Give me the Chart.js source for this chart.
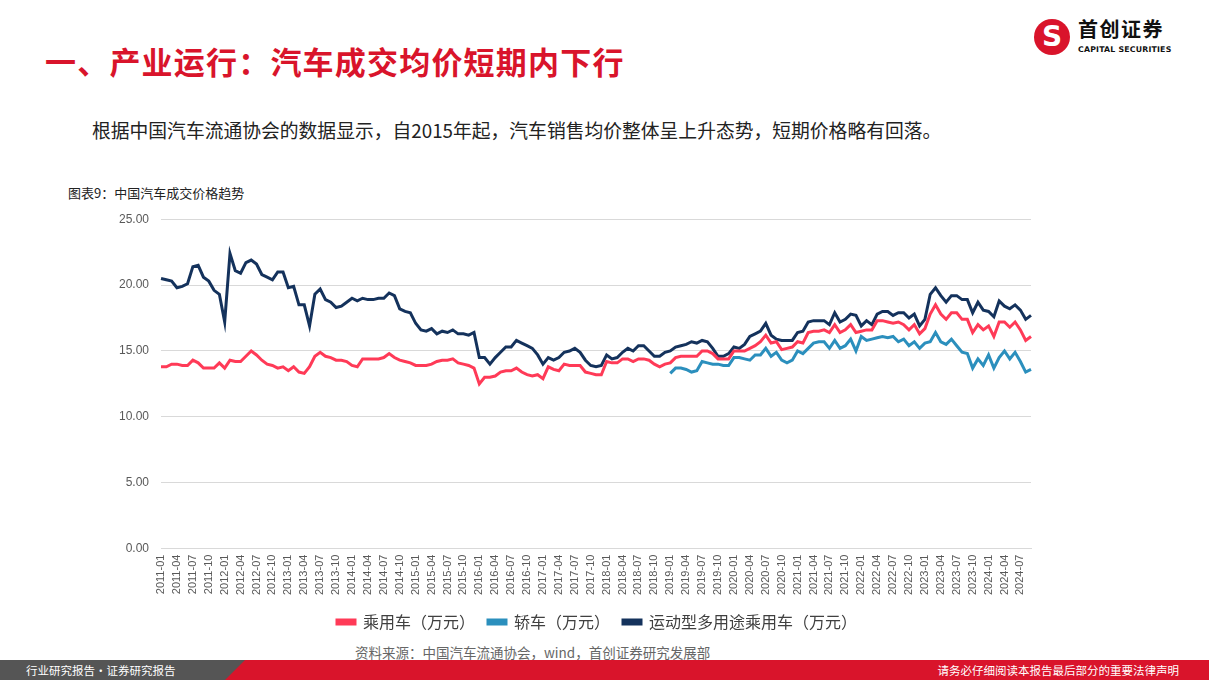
<!DOCTYPE html>
<html>
<head>
<meta charset="utf-8">
<script src="https://cdn.jsdelivr.net/npm/chart.js@4/dist/chart.umd.min.js"></script>
<style>
  body { margin: 0; width: 1209px; height: 680px; background: #fff; position: relative; overflow: hidden;
         font-family: "Noto Sans CJK SC", "Noto Sans", sans-serif; }
  .title { position: absolute; left: 45px; top: 38px; font-size: 31px; font-weight: bold; color: #d9142b; letter-spacing: 1.2px; }
  .logo-mark { position: absolute; left: 1034px; top: 19px; width: 36px; height: 36px; border-radius: 50%; background: #d9142b;
               color: #fff; font: bold 28px "DejaVu Sans", sans-serif; text-align: center; line-height: 36px; }
  .logo-cn { position: absolute; left: 1078px; top: 16px; font-size: 20px; font-weight: bold; color: #111; letter-spacing: 1.5px; line-height: 26px; }
  .logo-en { position: absolute; left: 1078px; top: 45px; font: bold 7.8px "DejaVu Sans", sans-serif; color: #111; line-height: 9px; letter-spacing: 0.2px; }
  .lead { position: absolute; left: 92px; top: 116px; font-size: 18.8px; color: #222; }
  .caption { position: absolute; left: 68px; top: 183px; font-size: 13px; color: #222; }
  .source { position: absolute; left: 355px; top: 642px; font-size: 13.5px; color: #666; }
  .footer { position: absolute; left: 0; top: 660px; width: 1209px; height: 20px; background: #d9142b; }
  .footer .grey { position: absolute; left: 0; top: 0; width: 245px; height: 20px; background: #555;
                  clip-path: polygon(0 0, 245px 0, 225px 20px, 0 20px); }
  .footer .l { position: absolute; left: 26px; top: 2px; font-size: 11.5px; color: #fff; }
  .footer .r { position: absolute; right: 30px; top: 2px; font-size: 11.5px; color: #fff; }
  #wrap { position: absolute; left: 95px; top: 200px; width: 960px; height: 440px; }
</style>
</head>
<body>
<div class="title">一、产业运行：汽车成交均价短期内下行</div>
<div class="logo-mark">S</div>
<div class="logo-cn">首创证券</div>
<div class="logo-en">CAPITAL SECURITIES</div>
<div class="lead">根据中国汽车流通协会的数据显示，自2015年起，汽车销售均价整体呈上升态势，短期价格略有回落。</div>
<div class="caption">图表9：中国汽车成交价格趋势</div>
<div id="wrap"><canvas id="myChart"></canvas></div>
<div class="source">资料来源：中国汽车流通协会，wind，首创证券研究发展部</div>
<div class="footer"><div class="grey"></div><div class="l">行业研究报告·证券研究报告</div><div class="r">请务必仔细阅读本报告最后部分的重要法律声明</div></div>
<script>
// months 2011-01 .. 2024-09
var months = [];
for (var y = 2011; y <= 2024; y++) {
  for (var m = 1; m <= 12; m++) {
    if (y === 2024 && m > 9) break;
    months.push(y + '-' + (m < 10 ? '0' + m : m));
  }
}

// 乘用车（万元）
var passenger = [
  13.8, 13.8, 14.0, 14.0, 13.9, 13.9, 14.3, 14.1, 13.7, 13.7, 13.7, 14.1,
  13.7, 14.3, 14.2, 14.2, 14.6, 15.0, 14.7, 14.3, 14.0, 13.9, 13.7, 13.8,
  13.5, 13.8, 13.4, 13.3, 13.8, 14.6, 14.9, 14.6, 14.5, 14.3, 14.3, 14.2,
  13.9, 13.8, 14.4, 14.4, 14.4, 14.4, 14.5, 14.8, 14.5, 14.3, 14.2, 14.1,
  13.9, 13.9, 13.9, 14.0, 14.2, 14.3, 14.3, 14.4, 14.1, 14.0, 13.9, 13.7,
  12.5, 13.0, 13.0, 13.1, 13.4, 13.5, 13.5, 13.7, 13.4, 13.2, 13.1, 13.2,
  12.9, 13.8, 13.6, 13.5, 14.0, 13.9, 13.9, 13.9, 13.4, 13.3, 13.2, 13.2,
  14.2, 14.1, 14.1, 14.4, 14.4, 14.2, 14.4, 14.4, 14.3, 14.0, 13.8, 14.0,
  14.1, 14.5, 14.6, 14.6, 14.6, 14.6, 15.0, 15.0, 14.8, 14.4, 14.4, 14.4,
  15.0, 15.0, 15.0, 15.2, 15.4, 15.7, 16.2, 15.6, 15.7, 15.1, 15.2, 15.3,
  15.7, 15.6, 16.4, 16.5, 16.5, 16.6, 16.4, 17.0, 16.4, 16.6, 17.0, 16.4,
  16.5, 16.6, 16.6, 17.3, 17.3, 17.2, 17.1, 17.2, 17.0, 16.6, 17.0, 16.3,
  16.7, 17.8, 18.5, 17.8, 17.4, 17.9, 17.9, 17.4, 17.4, 16.4, 17.0, 16.6,
  16.9, 16.1, 17.2, 17.2, 16.8, 17.2, 16.6, 15.8, 16.1
];

// 轿车（万元），from 2019-01
var sedanStart = '2019-01';
var sedan = [
  13.3, 13.7, 13.7, 13.6, 13.4, 13.5, 14.2, 14.1, 14.0, 14.0, 13.9, 13.9,
  14.5, 14.5, 14.4, 14.3, 14.7, 14.7, 15.2, 14.6, 14.9, 14.3, 14.1, 14.3,
  15.0, 14.8, 15.2, 15.6, 15.7, 15.7, 15.2, 15.8, 15.2, 15.4, 15.9, 15.0,
  16.1, 15.8, 15.9, 16.0, 16.1, 16.0, 16.1, 15.7, 15.9, 15.4, 15.7, 15.2,
  15.6, 15.7, 16.4, 15.7, 15.5, 15.9, 15.4, 14.9, 14.8, 13.7, 14.4, 13.9,
  14.7, 13.7, 14.5, 15.0, 14.4, 14.9, 14.2, 13.4, 13.6
];

// 运动型多用途乘用车（万元）
var suv = [
  20.5, 20.4, 20.3, 19.8, 19.9, 20.1, 21.4, 21.5, 20.6, 20.3, 19.6, 19.3,
  17.2, 22.4, 21.1, 20.9, 21.7, 21.9, 21.6, 20.8, 20.6, 20.4, 21.0, 21.0,
  19.8, 19.9, 18.5, 18.5, 16.9, 19.3, 19.7, 18.9, 18.7, 18.3, 18.4, 18.7,
  19.0, 18.8, 19.0, 18.9, 18.9, 19.0, 19.0, 19.4, 19.2, 18.2, 18.0, 17.9,
  17.1, 16.6, 16.5, 16.7, 16.3, 16.5, 16.4, 16.6, 16.3, 16.3, 16.2, 16.4,
  14.5, 14.5, 14.0, 14.5, 14.9, 15.3, 15.3, 15.8, 15.6, 15.4, 15.2, 14.7,
  14.0, 14.5, 14.3, 14.5, 14.9, 15.0, 15.2, 14.9, 14.3, 13.9, 13.8, 13.9,
  14.7, 14.4, 14.5, 14.9, 15.2, 15.0, 15.4, 15.4, 15.0, 14.6, 14.6, 14.9,
  15.0, 15.3, 15.4, 15.5, 15.7, 15.6, 15.8, 15.7, 15.2, 14.6, 14.6, 14.8,
  15.3, 15.2, 15.5, 16.1, 16.3, 16.5, 17.1, 16.2, 15.9, 15.8, 15.8, 15.8,
  16.4, 16.5, 17.2, 17.3, 17.3, 17.3, 17.0, 17.9, 17.2, 17.4, 17.8, 17.7,
  16.9, 17.3, 17.0, 17.8, 18.0, 18.0, 17.7, 17.9, 17.9, 17.5, 17.8, 16.9,
  17.4, 19.3, 19.8, 19.2, 18.7, 19.2, 19.2, 18.9, 18.9, 17.9, 18.7, 18.1,
  18.0, 17.6, 18.8, 18.4, 18.2, 18.5, 18.1, 17.4, 17.7
];

var yTicks = [0, 5, 10, 15, 20, 25];

var sedanFull = months.map(function (mo, i) {
  var k = i - months.indexOf(sedanStart);
  return k >= 0 ? sedan[k] : null;
});

// nudge the legend a little to the right, as in the original layout
var legendShift = {
  id: 'legendShift',
  afterLayout: function (chart) {
    if (chart.legend) { chart.legend.left += 28; chart.legend.right += 28; }
  }
};

var ctx = document.getElementById('myChart').getContext('2d');
var myChart = new Chart(ctx, {
  type: 'line',
  data: {
    labels: months,
    datasets: [{
      label: '乘用车（万元）',
      data: passenger,
      borderColor: '#ff3a57',
      backgroundColor: '#ff3a57'
    }, {
      label: '轿车（万元）',
      data: sedanFull,
      borderColor: '#2b8fbd',
      backgroundColor: '#2b8fbd'
    }, {
      label: '运动型多用途乘用车（万元）',
      data: suv,
      borderColor: '#14325c',
      backgroundColor: '#14325c'
    }]
  },
  plugins: [legendShift],
  options: {
    responsive: true,
    maintainAspectRatio: false,
    animation: false,
    layout: { padding: { left: 12, right: 24, top: 4, bottom: 0 } },
    elements: {
      line: { borderWidth: 3, tension: 0 },
      point: { radius: 0 }
    },
    scales: {
      x: {
        grid: { display: false, drawTicks: false },
        border: { display: true, color: '#d9d9d9', width: 1 },
        ticks: {
          autoSkip: false,
          minRotation: 90,
          maxRotation: 90,
          padding: 6,
          color: '#595959',
          font: { size: 11, family: 'Liberation Sans, Arial, sans-serif' },
          callback: function (v, i) { return i % 3 === 0 ? months[i] : ''; }
        }
      },
      y: {
        min: 0,
        max: 25,
        afterBuildTicks: function (axis) { axis.ticks = yTicks.map(function (v) { return { value: v }; }); },
        grid: { color: '#d9d9d9', drawTicks: false },
        border: { display: false },
        ticks: {
          padding: 12,
          color: '#595959',
          font: { size: 12, family: 'Liberation Sans, Arial, sans-serif' },
          callback: function (v) { return v.toFixed(2); }
        }
      }
    },
    plugins: {
      tooltip: { enabled: false },
      legend: {
        position: 'bottom',
        labels: {
          boxWidth: 18,
          boxHeight: 4,
          padding: 13,
          color: '#404040',
          font: { size: 16, family: 'Noto Sans CJK SC' }
        }
      }
    }
  }
});
</script>
</body>
</html>
